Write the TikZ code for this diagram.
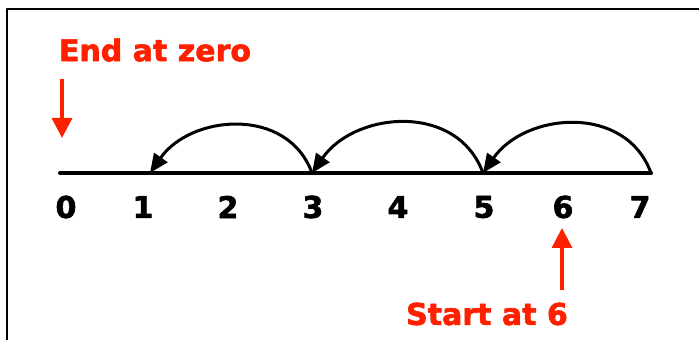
\documentclass[tikz,border=0pt]{standalone}
\usepackage{fontspec}
\setmainfont{DejaVu Sans}[BoldFeatures={FakeBold=2}]
\usetikzlibrary{arrows.meta}
\definecolor{jumpred}{RGB}{255,32,0}
\begin{document}
\begin{tikzpicture}[x=1pt,y=1pt,line join=round,line cap=round,
	numlab/.style={font=\bfseries\fontsize{30}{30}\selectfont},
	redlab/.style={text=jumpred,font=\bfseries\fontsize{30}{30}\selectfont},
	jump/.style={line width=3pt,looseness=1.13,-{Triangle[length=19pt,width=16pt]}},
	pointer/.style={jumpred,line width=3.5pt,line cap=butt,-{Triangle[length=20pt,width=20pt]}}]
	\useasboundingbox (0,0) rectangle (699,340);
	\draw[line width=2.5pt,line cap=butt] (7,0) -- (7,331) -- (699,331);
	% number line
	\coordinate (p0) at (60,167);
	\coordinate (p1) at (150,167);
	\coordinate (p3) at (312,167);
	\coordinate (p5) at (483,167);
	\coordinate (p7) at (651,167);
	\draw[line width=4pt] (p0) -- (p7);
	\foreach \n/\x in {0/66,1/143,2/228,3/313,4/398,5/484,6/563,7/640}
		\node[numlab] (l\n) at (\x,133) {\n};
	% jumps back by two
	\draw[jump] (p7) to[out=110,in=55] (p5);
	\draw[jump] (p5) to[out=110,in=55] (p3);
	\draw[jump] (p3) to[out=110,in=55] (p1);
	% start and end
	\node[redlab] (endlab) at (155,290) {End at zero};
	\node[redlab] (startlab) at (487,26) {Start at 6};
	\coordinate (e0) at (62,261);
	\coordinate (e1) at (62,202);
	\coordinate (s0) at (562,50);
	\coordinate (s1) at (562,112);
	\draw[pointer] (e0) -- (e1);
	\draw[pointer] (s0) -- (s1);
\end{tikzpicture}
\end{document}
